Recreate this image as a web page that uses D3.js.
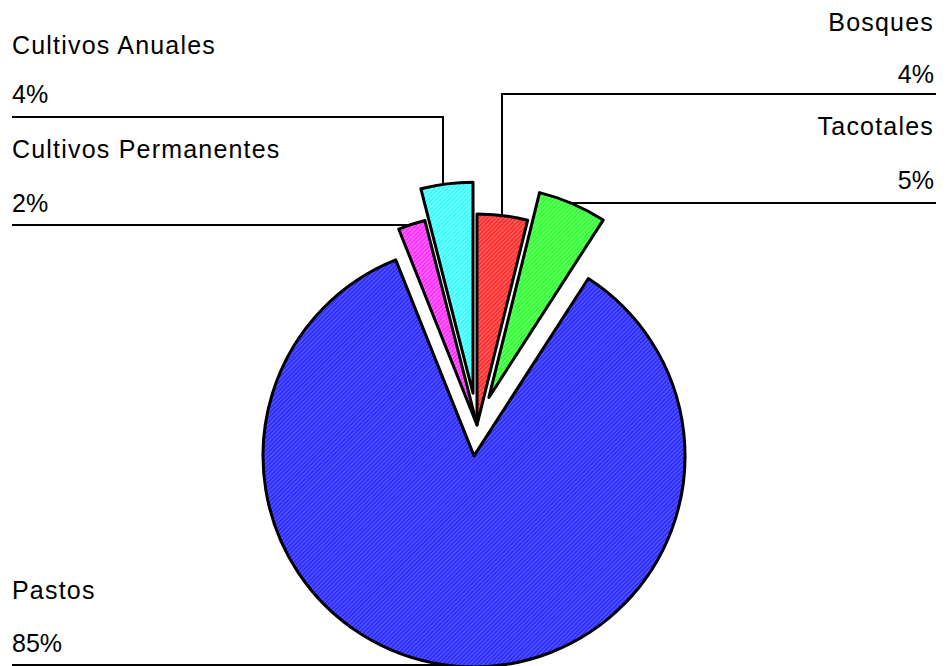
<!DOCTYPE html>
<html>
<head>
<meta charset="utf-8">
<script src="https://cdn.jsdelivr.net/npm/d3@7"></script>
<style>
  body { margin: 0; background: #fff; }
  text { font-family: Arial, "Liberation Sans", sans-serif; font-size: 25px; fill: #000; }
  text.name { letter-spacing: 1.2px; }
</style>
</head>
<body>
<script>
// Data (percent of area)
var categories = ["Bosques", "Tacotales", "Pastos", "Cultivos Permanentes", "Cultivos Anuales"];
var values = [3.86, 5.25, 84.83, 2.08, 3.97];
var percentLabels = ["4%", "5%", "85%", "2%", "4%"];

// Styles
var colors = ["#ff3030", "#30ff30", "#2e2eff", "#ff30ff", "#30ffff"];
var stripes = ["#ff6a6a", "#7aff7a", "#5c5cff", "#ff7aff", "#9affff"];
var explode = [0, 30, 31, 0, 32]; // px, along slice middle

var w = 947, h = 666;
var cx = 477, cy = 425, r = 211;

// label layout: text baselines, leader line y, optional elbow x
var layout = [
  { side: "right", nameY: 31, pctY: 83, lineY: 94, elbowX: 502 },
  { side: "right", nameY: 135, pctY: 189, lineY: 203 },
  { side: "left", nameY: 599, pctY: 652, lineY: 665 },
  { side: "left", nameY: 158, pctY: 212, lineY: 225 },
  { side: "left", nameY: 54, pctY: 103, lineY: 117, elbowX: 443 }
];
var leftX = 12, rightX = 934;

var svg = d3.select("body")
  .append("svg")
  .attr("width", w)
  .attr("height", h);

svg.append("rect").attr("width", w).attr("height", h).attr("fill", "#fff");

// hatch patterns, one per colour
var defs = svg.append("defs");
colors.forEach(function(c, i) {
  var p = defs.append("pattern")
    .attr("id", "hatch" + i)
    .attr("patternUnits", "userSpaceOnUse")
    .attr("width", 3)
    .attr("height", 3)
    .attr("patternTransform", "rotate(45)");
  p.append("rect").attr("width", 3).attr("height", 3).attr("fill", c);
  p.append("rect").attr("width", 1).attr("height", 3).attr("fill", stripes[i]);
});

var pie = d3.pie().sort(null).value(function(d) { return d; });
var arcs = pie(values);
var arc = d3.arc().innerRadius(0).outerRadius(r);

// tip (exploded centre) of each slice
arcs.forEach(function(d, i) {
  var mid = (d.startAngle + d.endAngle) / 2;
  d.tx = cx + Math.sin(mid) * explode[i];
  d.ty = cy - Math.cos(mid) * explode[i];
});

svg.selectAll("path.slice")
  .data(arcs)
  .enter()
  .append("path")
  .attr("class", "slice")
  .attr("transform", function(d) { return "translate(" + d.tx + "," + d.ty + ")"; })
  .attr("d", arc)
  .attr("fill", function(d, i) { return "url(#hatch" + i + ")"; })
  .attr("stroke", "#000")
  .attr("stroke-width", 3)
  .attr("stroke-linejoin", "round");

// leader lines
arcs.forEach(function(d, i) {
  var L = layout[i];
  var startX = L.side === "left" ? leftX : rightX + 2;
  var pts;
  if (L.elbowX !== undefined) {
    var ey = d.ty - Math.sqrt(r * r - (L.elbowX - d.tx) * (L.elbowX - d.tx));
    pts = [[startX, L.lineY], [L.elbowX, L.lineY], [L.elbowX, ey]];
  } else {
    var dx = Math.sqrt(r * r - (L.lineY - d.ty) * (L.lineY - d.ty));
    var ex = L.side === "left" ? d.tx - dx : d.tx + dx;
    pts = [[startX, L.lineY], [ex, L.lineY]];
  }
  svg.append("path")
    .attr("d", d3.line()(pts))
    .attr("fill", "none")
    .attr("stroke", "#000")
    .attr("stroke-width", 2);
});

// labels
categories.forEach(function(name, i) {
  var L = layout[i];
  var x = L.side === "left" ? leftX : rightX;
  var anchor = L.side === "left" ? "start" : "end";
  svg.append("text")
    .attr("class", "name")
    .attr("x", x).attr("y", L.nameY)
    .attr("text-anchor", anchor)
    .text(name);
  svg.append("text")
    .attr("x", x).attr("y", L.pctY)
    .attr("text-anchor", anchor)
    .text(percentLabels[i]);
});
</script>
</body>
</html>
